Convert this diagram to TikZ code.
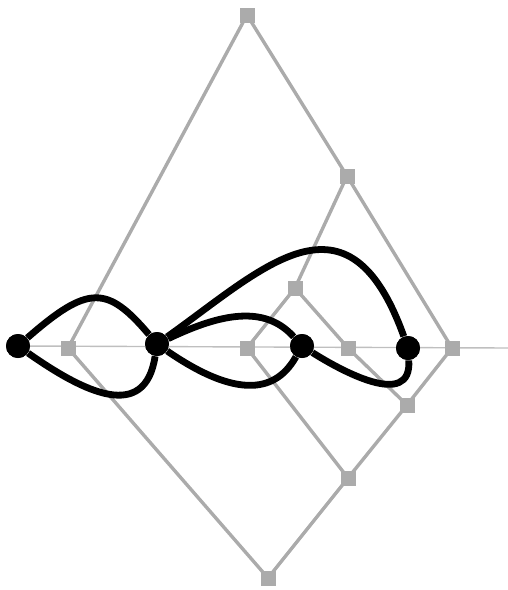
\documentclass[tikz,border=0pt]{standalone}
\begin{document}
\begin{tikzpicture}[x=0.5pt,y=-0.5pt,
  gline/.style={draw=black!33,line width=1.7pt},
  axisline/.style={draw=black!25,line width=0.7pt},
  gsq/.style={rectangle,fill=black!33,minimum size=7.5pt,inner sep=0pt},
  bdot/.style={circle,fill=black,minimum size=12pt,inner sep=0pt},
  bcurve/.style={draw=black,line width=3.4pt}]
\useasboundingbox (0,0) rectangle (508,590);
% gray nodes
\node[gsq] (t) at (247,15) {};
\node[gsq] (r1) at (347,176) {};
\node[gsq] (r2) at (295,288) {};
\node[gsq] (a1) at (68,348) {};
\node[gsq] (a2) at (247,348) {};
\node[gsq] (a3) at (348,348) {};
\node[gsq] (a4) at (452,348) {};
\node[gsq] (d1) at (407,405) {};
\node[gsq] (d2) at (348,478) {};
\node[gsq] (bt) at (268,578) {};
\coordinate (axe) at (508,348);
% black nodes
\node[bdot] (A) at (18,346) {};
\node[bdot] (B) at (157,344) {};
\node[bdot] (C) at (302,346) {};
\node[bdot] (D) at (408,348) {};
% gray edges
\draw[gline] (a1.center) -- (t.center) -- (r1.center) -- (a4.center) -- (d1.center) -- (d2.center) -- (bt.center) -- (a1.center);
\draw[gline] (r1.center) -- (r2.center) -- (a2.center) -- (d2.center);
\draw[gline] (r2.center) -- (a3.center) -- (d1.center);
\draw[axisline] (A.center) -- (axe);
\foreach \n in {t,r1,r2,a1,a2,a3,a4,d1,d2,bt} {\node[gsq] at (\n) {};}
% black curves
\draw[bcurve] (A) .. controls (88,285) and (107,285) .. (B);
\draw[bcurve] (A) .. controls (85,393) and (145,422) .. (B);
\draw[bcurve] (B) .. controls (222,313) and (265,305) .. (C);
\draw[bcurve] (B) .. controls (247,406) and (280,385) .. (C);
\draw[bcurve] (B) .. controls (264,268) and (348,181) .. (D);
\draw[bcurve] (C) .. controls (340,370) and (412,410) .. (D);
\foreach \n in {A,B,C,D} {\node[bdot] at (\n) {};}
\end{tikzpicture}
\end{document}
